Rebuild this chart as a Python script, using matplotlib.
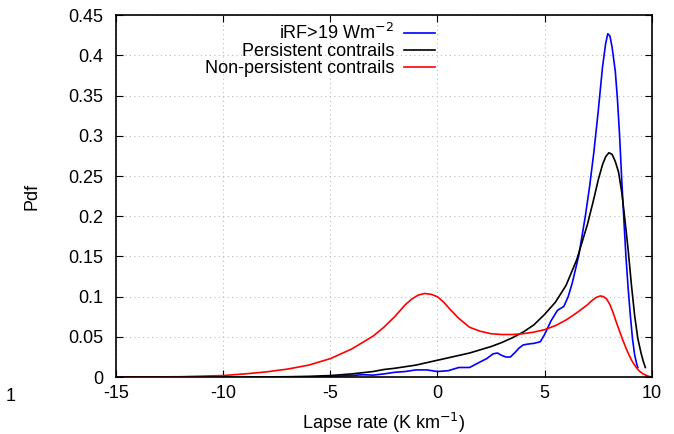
import matplotlib
matplotlib.use("Agg")
import matplotlib.pyplot as plt

# Non-persistent contrails
red_x = [-15, -12, -10, -9, -8, -7, -6, -5, -4, -3, -2.5, -2, -1.5, -1.2, -0.9, -0.6, -0.3, 0, 0.3, 0.6,
         1, 1.5, 2, 2.5, 3, 3.5, 4, 4.5, 5, 5.5, 6, 6.5, 7, 7.2, 7.4, 7.6, 7.75, 7.9, 8.05, 8.2,
         8.35, 8.5, 8.65, 8.8, 8.95, 9.1, 9.25, 9.4, 9.6, 9.8, 10]
red_y = [0, 0.0005, 0.002, 0.004, 0.0065, 0.01, 0.015, 0.023, 0.035, 0.051, 0.062, 0.075, 0.09, 0.097, 0.102, 0.104, 0.103, 0.1, 0.093, 0.084,
         0.073, 0.062, 0.057, 0.054, 0.053, 0.053, 0.054, 0.056, 0.059, 0.064, 0.071, 0.08, 0.09, 0.095, 0.099, 0.101, 0.1, 0.097, 0.09, 0.08,
         0.068, 0.057, 0.046, 0.036, 0.027, 0.019, 0.013, 0.008, 0.004, 0.0015, 0.0]

# Persistent contrails
blk_x = [-15, -10, -7, -6, -5, -4, -3.5, -3, -2.5, -2, -1.5, -1, -0.5, 0, 0.5, 1, 1.5, 2, 2.5, 3,
         3.5, 4, 4.5, 5, 5.5, 6, 6.5, 7, 7.3, 7.5, 7.7, 7.85, 8.0, 8.15, 8.3, 8.45, 8.6, 8.75, 8.9, 9.05,
         9.2, 9.35, 9.5, 9.6, 9.7]
blk_y = [0, 0, 0.0005, 0.001, 0.002, 0.004, 0.0055, 0.007, 0.0095, 0.011, 0.013, 0.015, 0.018, 0.021, 0.024, 0.027, 0.03, 0.034, 0.038, 0.043,
         0.049, 0.056, 0.065, 0.078, 0.093, 0.114, 0.146, 0.19, 0.222, 0.245, 0.264, 0.274, 0.279, 0.277, 0.268, 0.255, 0.23, 0.195, 0.158, 0.115,
         0.077, 0.048, 0.03, 0.02, 0.012]

# iRF > 19 W m-2
blu_x = [-15, -8, -6, -5, -4, -3.5, -3, -2.5, -2, -1.5, -1, -0.5, 0, 0.5, 1, 1.5, 2, 2.3, 2.6, 2.8,
         3.0, 3.2, 3.4, 3.6, 3.8, 4.0, 4.2, 4.5, 4.8, 5.0, 5.3, 5.6, 5.9, 6.1, 6.3, 6.6, 6.9, 7.1, 7.3, 7.5,
         7.7, 7.85, 7.95, 8.05, 8.15, 8.3, 8.4, 8.5, 8.6, 8.7, 8.8, 8.9, 9.0, 9.1, 9.2, 9.3, 9.35]
blu_y = [0, 0, 0, 0.001, 0.002, 0.003, 0.0025, 0.004, 0.006, 0.007, 0.009, 0.009, 0.007, 0.008, 0.012, 0.012, 0.019, 0.023, 0.029, 0.030,
         0.027, 0.025, 0.025, 0.030, 0.036, 0.040, 0.041, 0.042, 0.044, 0.053, 0.07, 0.083, 0.088, 0.1, 0.118, 0.152, 0.2, 0.237, 0.28, 0.33,
         0.385, 0.415, 0.427, 0.424, 0.41, 0.38, 0.345, 0.30, 0.245, 0.195, 0.148, 0.11, 0.077, 0.048, 0.028, 0.016, 0.012]

plt.rcParams['font.family'] = ['Liberation Sans', 'DejaVu Sans']
plt.rcParams['font.size'] = 13
plt.rcParams['axes.unicode_minus'] = False

fig = plt.figure(figsize=(6.74, 4.34), dpi=100)
ax = fig.add_axes([0.172, 0.131, 0.795, 0.834])

ax.plot(blu_x, blu_y, color='#0000ff', lw=1.2, label='iRF>19 Wm$^{-2}$')
ax.plot(blk_x, blk_y, color='black', lw=1.2, label='Persistent contrails')
ax.plot(red_x, red_y, color='#ff0000', lw=1.2, label='Non-persistent contrails')

ax.set_xlim(-15, 10)
ax.set_ylim(0, 0.45)
ax.set_xticks([-15, -10, -5, 0, 5, 10])
ax.set_yticks([0, 0.05, 0.1, 0.15, 0.2, 0.25, 0.3, 0.35, 0.4, 0.45])
ax.set_yticklabels(['0', '0.05', '0.1', '0.15', '0.2', '0.25', '0.3', '0.35', '0.4', '0.45'])
ax.tick_params(direction='in', top=True, right=True, length=5)
ax.tick_params(axis='y', pad=9)
ax.tick_params(axis='x', pad=6)
ax.grid(True, color='#bbbbbb', linestyle=(0, (1, 3)), lw=0.8)
for s in ax.spines.values():
    s.set_linewidth(1.2)

ax.set_xlabel('Lapse rate (K km$^{-1}$)')
ax.xaxis.set_label_coords(0.5, -0.094)
ax.set_ylabel('Pdf')
ax.yaxis.set_label_coords(-0.14, 0.5)

leg = ax.legend(loc='upper right', bbox_to_anchor=(0.595, 0.978), frameon=False,
                markerfirst=False, handlelength=1.7, handletextpad=0.55,
                labelspacing=0.0, borderaxespad=0, borderpad=0)
for t in leg.get_texts():
    t.set_ha('right')
leg._legend_box.align = 'right'

fig.text(0.008, 0.075, '1')

fig.savefig('out.png', dpi=100)
